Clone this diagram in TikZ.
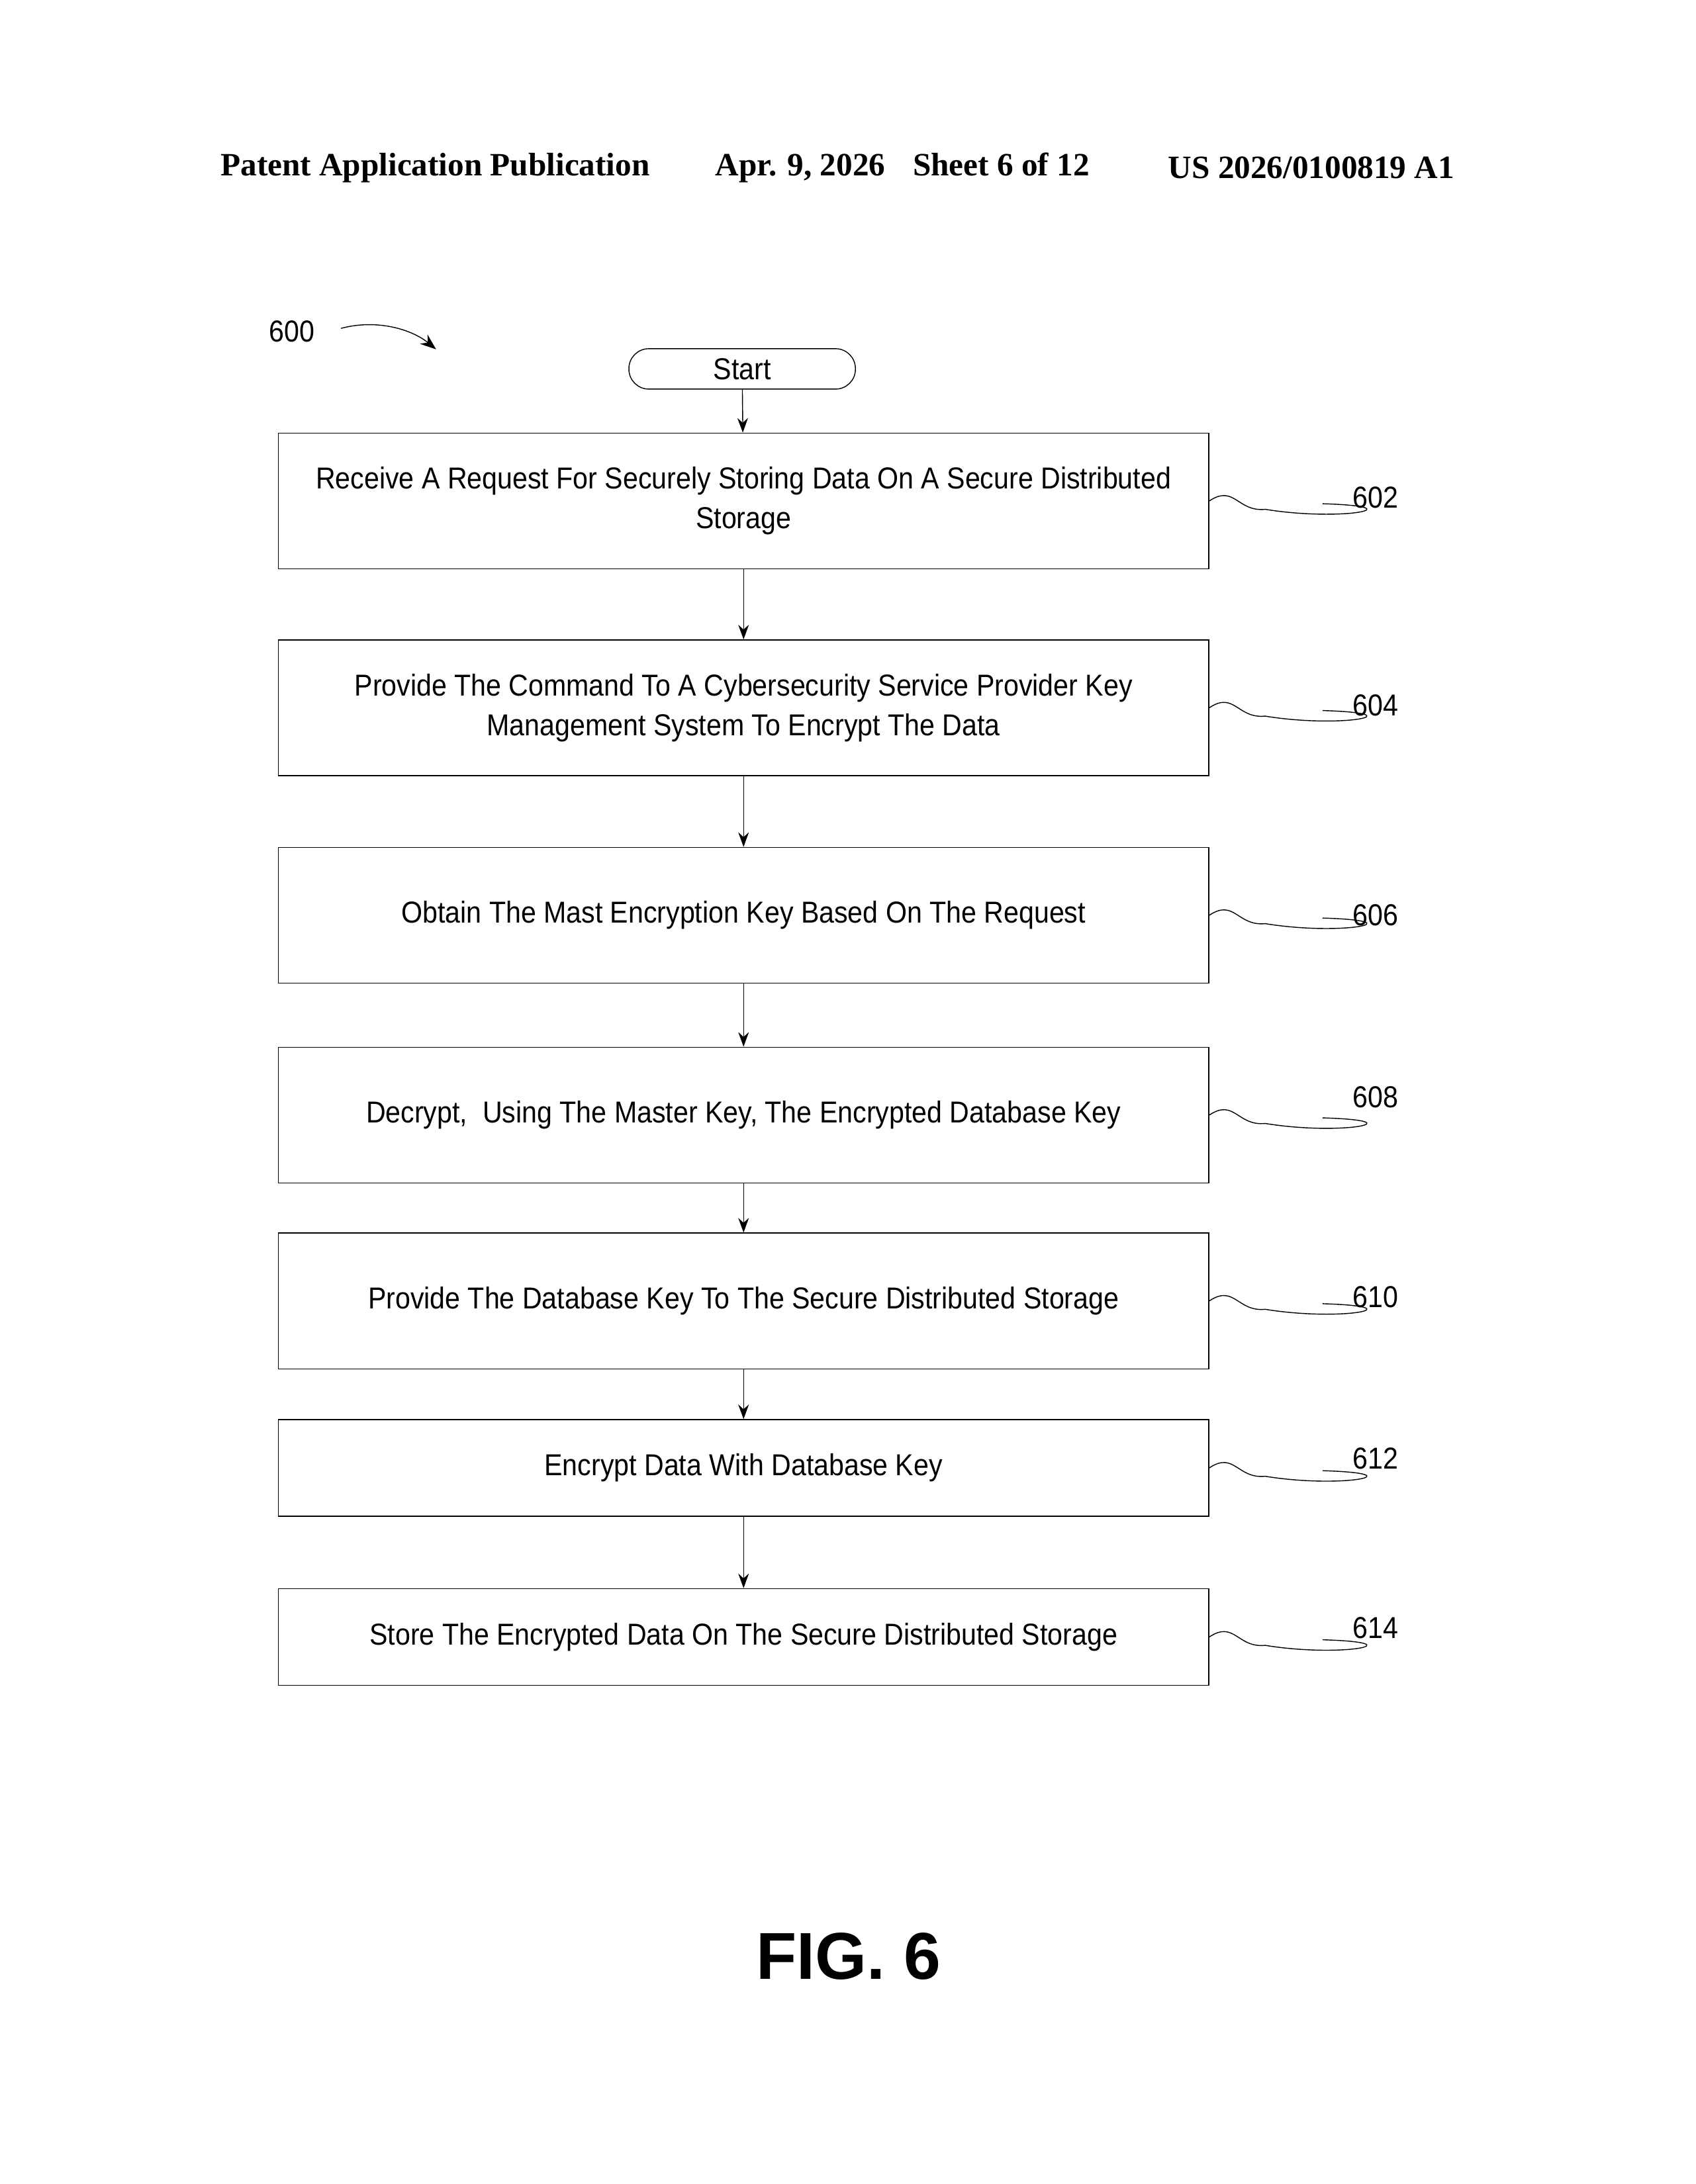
\documentclass[tikz,border=0pt]{standalone}
\usepackage{fontspec}
\setmainfont{Liberation Serif}
\newfontfamily\boxfont{Liberation Sans}[FakeStretch=0.90]
\newfontfamily\figfont{Liberation Sans}
\usetikzlibrary{arrows.meta}
\tikzset{
  stepbox/.style={draw, thin, minimum width=14.05cm, minimum height=2.05cm, align=center, font=\boxfont\fontsize{13}{17}\selectfont, inner sep=2pt},
  shortbox/.style={stepbox, minimum height=1.46cm},
  flow/.style={-{Stealth[length=2.2mm,width=1.6mm]}, thin},
  ref/.style={font=\boxfont\fontsize{13}{15}\selectfont, anchor=west}
}
\newcommand{\squig}[1]{\draw[thin] (#1.east) .. controls +(18,-12) and +(-20,2) .. +(40,6) .. controls +(55,9) and +(68,2) .. +(81,2);}
\begin{document}
\begin{tikzpicture}[x=0.0211cm,y=-0.0211cm]
            \useasboundingbox (0,0) rectangle (1213,1563);
            % header
            \node[font=\bfseries\fontsize{14}{16}\selectfont, anchor=west] (hdra) at (152,120) {Patent Application Publication};
            \node[font=\bfseries\fontsize{14}{16}\selectfont, anchor=west] (hdrb) at (506,120) {Apr. 9, 2026\hspace{0.6em} Sheet 6 of 12};
            \node[font=\bfseries\fontsize{14}{16}\selectfont, anchor=west] (hdrc) at (830,120) {US 2026/0100819 A1};
            % steps
            \node[draw, thin, rounded corners=0.3cm, minimum width=3.42cm, minimum height=0.61cm, inner sep=0pt, font=\boxfont\fontsize{13}{15}\selectfont] (start) at (531,264) {Start};
            \node[stepbox] (s602) at (532,358.5) {Receive A Request For Securely Storing Data On A Secure Distributed\\Storage};
            \node[stepbox] (s604) at (532,506.5) {Provide The Command To A Cybersecurity Service Provider Key\\Management System To Encrypt The Data};
            \node[stepbox] (s606) at (532,655) {Obtain The Mast Encryption Key Based On The Request};
            \node[stepbox] (s608) at (532,798) {Decrypt,\ \ Using The Master Key, The Encrypted Database Key};
            \node[stepbox] (s610) at (532,931) {Provide The Database Key To The Secure Distributed Storage};
            \node[shortbox] (s612) at (532,1050.5) {Encrypt Data With Database Key};
            \node[shortbox] (s614) at (532,1171.5) {Store The Encrypted Data On The Secure Distributed Storage};
            \draw[flow] (start) -- (s602);
            \draw[flow] (s602) -- (s604);
            \draw[flow] (s604) -- (s606);
            \draw[flow] (s606) -- (s608);
            \draw[flow] (s608) -- (s610);
            \draw[flow] (s610) -- (s612);
            \draw[flow] (s612) -- (s614);
            % reference numerals
            \foreach \n/\y in {602/356,604/505,606/655,608/785,610/928,612/1044,614/1165} {
              \squig{s\n}
              \node[ref] (r\n) at (962,\y) {\n};
            }
            \node[font=\boxfont\fontsize{13}{15}\selectfont] (r600) at (209,237) {600};
            \coordinate (tip600) at (312,250);
            \draw[-{Stealth[length=2.4mm,width=1.8mm]}, thin] (244,235) .. controls (270,228) and (295,236) .. (tip600);
            \node[font=\figfont\bfseries\fontsize{28.5}{32}\selectfont] (fig) at (607,1400) {FIG. 6};
\end{tikzpicture}
\end{document}
